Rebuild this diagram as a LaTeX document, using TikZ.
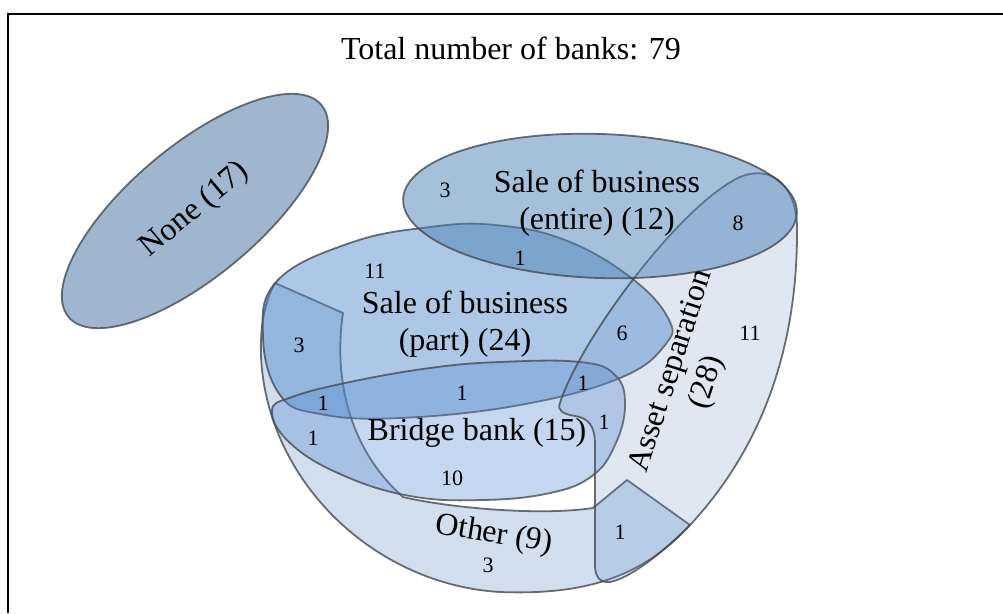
\documentclass[tikz,border=0pt]{standalone}
\usepackage{fontspec}
\setmainfont{Liberation Serif}
\usepackage{xcolor}
\usepackage{tikz}
\usetikzlibrary{positioning}

\definecolor{nonefill}{RGB}{160,182,206}
\definecolor{entirefill}{RGB}{75,129,181}
\definecolor{partfill}{RGB}{73,133,199}
\definecolor{bridgefill}{RGB}{90,138,210}
\definecolor{assetfill}{RGB}{95,135,195}
\definecolor{otherfill}{RGB}{100,145,200}
\definecolor{edgegray}{RGB}{70,75,82}

\begin{document}
\begin{tikzpicture}[
				x = 1pt, y = -1pt,
				set/.style = {draw = edgegray, line width = 1.8pt, draw opacity = 0.8, line join = round},
				lbl/.style = {font = \fontsize{32}{37}\selectfont, align = center, inner sep = 0pt},
				num/.style = {font = \fontsize{22}{26}\selectfont, inner sep = 0pt}
				]
				\useasboundingbox (0,0) rectangle (1003,613);
				\draw [line width = 2.5pt] (8,613) -- (8,14) -- (1003,14);

				\draw [set, fill = otherfill, fill opacity = 0.3] (275,283) -- (343,313) .. controls (333,380) and (350,450) .. (403,497) .. controls (450,508) and (540,516) .. (593,508) -- (627,480) -- (690,525) .. controls (640,580) and (580,595) .. (500,592) .. controls (380,585) and (275,490) .. (262,370) .. controls (258,330) and (265,300) .. (275,283) -- cycle;

				\draw [set, fill = partfill, fill opacity = 0.45] plot [smooth cycle, tension = 0.7] coordinates {(263,337) (277,281) (350,243) (430,227) (495,225) (565,240) (630,277) (668,318) (665,345) (620,378) (520,405) (400,418) (320,414) (280,395)};

				\draw [set, fill = bridgefill, fill opacity = 0.35] plot [smooth cycle, tension = 0.7] coordinates {(272,411) (292,397) (350,382) (430,368) (500,362) (580,362) (615,375) (625,405) (615,445) (592,476) (550,493) (483,500) (410,496) (340,474) (290,443)};

				\draw [set, fill = assetfill, fill opacity = 0.2] (560,403) .. controls (580,340) and (680,205) .. (740,177) .. controls (775,163) and (797,190) .. (797,228) .. controls (798,350) and (760,450) .. (690,525) .. controls (660,555) and (630,578) .. (610,582) .. controls (600,583) and (595,577) .. (595,565) -- (595,445) .. controls (595,425) and (588,418) .. (575,416) .. controls (562,414) and (557,410) .. (560,403) -- cycle;

				\draw [set, fill = entirefill, fill opacity = 0.5, rotate around = {-2:(600,206)}] (600,206) ellipse [x radius = 197, y radius = 72];

				\draw [set, fill = nonefill, rotate around = {40:(195,211)}] (195,211) ellipse [x radius = 165, y radius = 65];

				\node [lbl] (title) at (511,48) {Total number of banks: 79};
				\node [lbl, rotate = 40] (none) at (195,210) {None (17)};
				\node [lbl] (entire) at (597,203) {Sale of business\\(entire) (12)};
				\node [lbl] (part) at (465,324) {Sale of business\\(part) (24)};
				\node [lbl] (bridge) at (477,433) {Bridge bank (15)};
				\node [lbl, rotate = -9] (other) at (494,535) {Other (9)};
				\node [lbl, rotate = 72] (asset) at (690,377) {Asset separation\\(28)};

				\node [num] (n-entire) at (445,190) {3};
				\node [num] (n-entire-asset) at (738,223) {8};
				\node [num] (n-entire-part) at (520,258) {1};
				\node [num] (n-part) at (375,271) {11};
				\node [num] (n-part-other) at (299,345) {3};
				\node [num] (n-part-asset) at (622,333) {6};
				\node [num] (n-asset) at (750,333) {11};
				\node [num] (n-part-bridge-asset) at (583,383) {1};
				\node [num] (n-part-bridge) at (462,393) {1};
				\node [num] (n-part-bridge-other) at (323,403) {1};
				\node [num] (n-bridge-other) at (313,438) {1};
				\node [num] (n-bridge-asset) at (604,422) {1};
				\node [num] (n-bridge) at (452,478) {10};
				\node [num] (n-other-asset) at (620,532) {1};
				\node [num] (n-other) at (488,565) {3};
			\end{tikzpicture}
\end{document}
